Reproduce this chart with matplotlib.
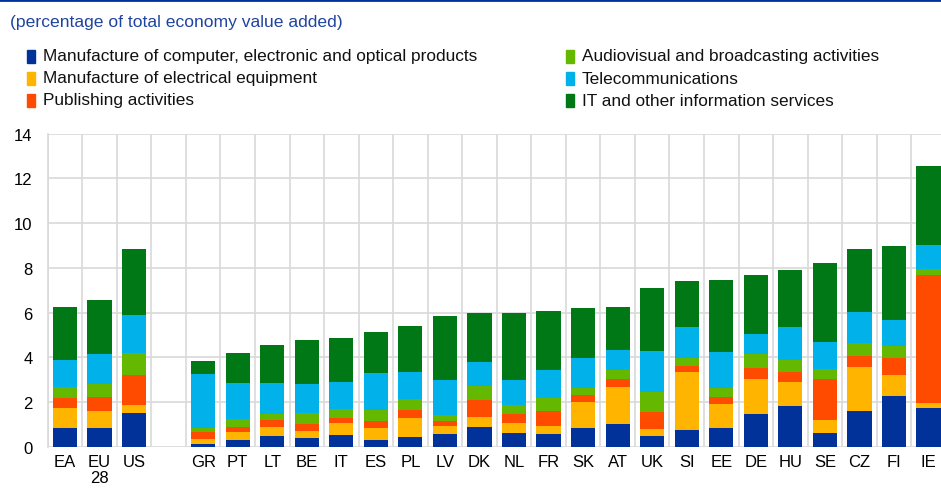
import numpy as np
import matplotlib.pyplot as plt
from matplotlib.patches import Rectangle

plt.rcParams.update({
    "font.family": ["Liberation Sans", "DejaVu Sans"],
    "font.size": 12,
})

# ----------------------------
# Data (percentage of total economy value added)
# ----------------------------
countries = ["EA", "EU\n28", "US", "GR", "PT", "LT", "BE", "IT", "ES", "PL", "LV",
             "DK", "NL", "FR", "SK", "AT", "UK", "SI", "EE", "DE", "HU", "SE",
             "CZ", "FI", "IE"]

computer = [0.85, 0.82, 1.52, 0.13, 0.30, 0.49, 0.38, 0.54, 0.31, 0.45, 0.57,
            0.89, 0.60, 0.58, 0.84, 1.03, 0.46, 0.76, 0.85, 1.45, 1.83, 0.60,
            1.58, 2.25, 1.72]
electrical = [0.88, 0.78, 0.34, 0.23, 0.37, 0.39, 0.32, 0.53, 0.53, 0.83, 0.36,
              0.42, 0.46, 0.36, 1.16, 1.64, 0.33, 2.57, 1.07, 1.58, 1.08, 0.59,
              2.00, 0.97, 0.23]
publishing = [0.43, 0.64, 1.35, 0.28, 0.22, 0.33, 0.30, 0.21, 0.30, 0.35, 0.21,
              0.79, 0.42, 0.64, 0.33, 0.34, 0.75, 0.27, 0.32, 0.48, 0.43, 1.82,
              0.49, 0.76, 5.74]
audiovisual = [0.52, 0.56, 0.97, 0.18, 0.36, 0.24, 0.52, 0.41, 0.50, 0.50, 0.29,
               0.61, 0.37, 0.58, 0.30, 0.41, 0.92, 0.37, 0.40, 0.62, 0.52, 0.48,
               0.55, 0.51, 0.26]
telecom = [1.20, 1.33, 1.71, 2.42, 1.58, 1.38, 1.28, 1.20, 1.66, 1.20, 1.55,
           1.08, 1.13, 1.26, 1.34, 0.90, 1.81, 1.40, 1.61, 0.91, 1.51, 1.21,
           1.39, 1.18, 1.07]
it_services = [2.35, 2.44, 2.94, 0.58, 1.35, 1.73, 1.99, 1.99, 1.82, 2.08, 2.85,
               2.17, 2.98, 2.64, 2.25, 1.93, 2.81, 2.04, 3.19, 2.65, 2.52, 3.50,
               2.82, 3.32, 3.53]

series = [
    ("Manufacture of computer, electronic and optical products", computer, "#003299"),
    ("Manufacture of electrical equipment", electrical, "#FFB400"),
    ("Publishing activities", publishing, "#FF4B00"),
    ("Audiovisual and broadcasting activities", audiovisual, "#65B800"),
    ("Telecommunications", telecom, "#00B1EA"),
    ("IT and other information services", it_services, "#007816"),
]

# aggregates, one empty slot, then countries
pos = np.array([0, 1, 2] + list(range(4, 4 + len(countries) - 3)), dtype=float)

fig = plt.figure(figsize=(9.41, 4.89), dpi=100)
W, H = 941, 489
ax = fig.add_axes([47.7 / W, (H - 447.7) / H, (W - 47.7) / W, (447.7 - 134.7) / H])

bottom = np.zeros(len(countries))
for name, vals, col in series:
    vals = np.asarray(vals)
    ax.bar(pos, vals, width=0.7, bottom=bottom, color=col, edgecolor="none", zorder=3)
    bottom += vals

ax.set_ylim(0, 14)
ax.set_yticks(range(0, 15, 2))
ax.set_xlim(-0.5, 25.36)
ax.set_xticks(pos)
ax.set_xticklabels(countries, va="top", linespacing=1.1)
ax.set_xticks(np.arange(-0.5, 25, 1.0), minor=True)
ax.tick_params(axis="x", which="both", length=0, pad=5)
ax.tick_params(axis="y", length=0, pad=11)
ax.grid(True, axis="y", which="major", color="#d9d9d9", linewidth=1.2, zorder=0)
ax.grid(True, axis="x", which="minor", color="#d9d9d9", linewidth=1.2, zorder=0)
ax.grid(False, axis="x", which="major")
for s in ["top", "right", "bottom"]:
    ax.spines[s].set_visible(False)
ax.spines["left"].set_color("#d9d9d9")
ax.spines["left"].set_linewidth(1.2)
ax.set_axisbelow(True)

# header line and subtitle
fig.add_artist(plt.Line2D([0, 1], [1 - 1 / H, 1 - 1 / H], color="#003299", linewidth=2))
fig.text(10 / W, 1 - 22 / H, "(percentage of total economy value added)",
         color="#1f44a0", fontsize=12.6, va="center", ha="left")

# legend, two columns
rows = [57, 79, 101]
for i, (name, vals, col) in enumerate(series):
    cx = 27 if i < 3 else 566
    cy = rows[i % 3]
    fig.add_artist(Rectangle(((cx) / W, 1 - (cy + 6.5) / H), 8 / W, 13 / H,
                             transform=fig.transFigure, color=col))
    fig.text((cx + 16) / W, 1 - cy / H, name, fontsize=12.4, va="center", ha="left",
             color="#111111")

fig.savefig("out.png", dpi=100)
